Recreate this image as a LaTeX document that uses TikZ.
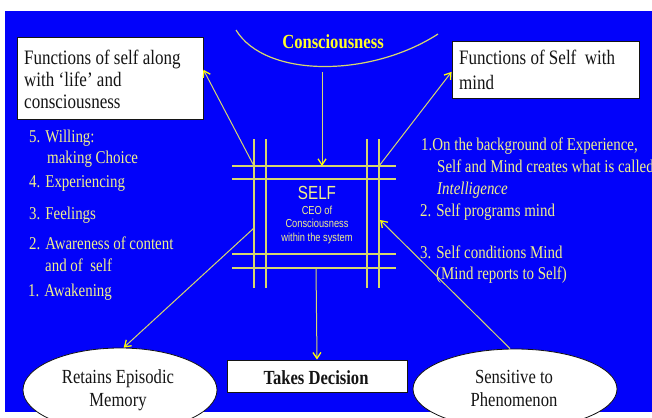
\documentclass[tikz,border=0pt]{standalone}
\usepackage{fontspec}
\setmainfont{Liberation Serif}[FakeStretch=0.83]
\newfontfamily\selfsans{Liberation Sans}[FakeStretch=0.8]
\usetikzlibrary{arrows.meta,shapes.geometric,calc}

\definecolor{slideblue}{RGB}{2,2,250}
\definecolor{gridyel}{RGB}{215,215,110}
\definecolor{listyel}{RGB}{240,240,140}
\definecolor{headyel}{RGB}{255,255,40}
\definecolor{tipyel}{RGB}{255,255,0}
\definecolor{inkblack}{RGB}{20,20,20}

\tikzset{
  gridline/.style={draw=gridyel, line width=1.2pt},
  link/.style={draw=gridyel, line width=1pt,
    -{Straight Barb[length=6pt,width=8pt,line width=1.3pt,color=tipyel]}},
  whitebox/.style={draw=inkblack, fill=white, line width=0.8pt, inner sep=0pt},
  oval/.style={ellipse, draw=inkblack, fill=white, line width=0.8pt, inner sep=0pt},
  listtxt/.style={anchor=base west, inner sep=0pt, text=listyel,
    font=\fontsize{18}{22}\selectfont},
  boxtxt/.style={anchor=base west, inner sep=0pt, text=inkblack,
    font=\fontsize{20.5}{22}\selectfont},
  ovaltxt/.style={anchor=base, inner sep=0pt, text=inkblack,
    font=\fontsize{20}{22}\selectfont},
  selftxt/.style={anchor=base, inner sep=0pt, text=listyel},
}

\begin{document}
\begin{tikzpicture}[x=1pt,y=-1pt]
\useasboundingbox (0,0) rectangle (652,417);
\clip (0,0) rectangle (652,417);
\fill[white] (0,0) rectangle (652,417);
\fill[slideblue] (5,11) rectangle (652,412);

% consciousness bowl and its label
\draw[gridyel, line width=1.2pt] (236,30) .. controls (265,78) and (370,78) .. (438,34);
\node[anchor=base, inner sep=0pt, text=headyel,
      font=\fontsize{20}{20}\selectfont\bfseries] (cons) at (333,49) {Consciousness};

% the SELF lattice
\foreach \gx in {254,266,367,379} \draw[gridline] (\gx,139) -- (\gx,288);
\foreach \gy in {166,179,254,268} \draw[gridline] (232,\gy) -- (396,\gy);

\node[selftxt, font=\selfsans\fontsize{19}{19}\selectfont] (selfname) at (317,199) {SELF};
\node[selftxt, font=\selfsans\fontsize{11.6}{13}\selectfont] (ceo1) at (317,214) {CEO of};
\node[selftxt, font=\selfsans\fontsize{11.6}{13}\selectfont] (ceo2) at (317,227.5) {Consciousness};
\node[selftxt, font=\selfsans\fontsize{11.6}{13}\selectfont] (ceo3) at (317,241) {within the system};

% connector end points on the lattice
\coordinate (consfoot) at (322,72);
\coordinate (gtop) at (322,166);
\coordinate (gtl) at (254,166);
\coordinate (gtr) at (379,166);
\coordinate (gleft) at (254,228);
\coordinate (gright) at (380,220);
\coordinate (gbot) at (316,268);

% boxes and ovals
\node[whitebox, minimum width=186pt, minimum height=82pt] (life) at (110,78) {};
\node[whitebox, minimum width=187pt, minimum height=57pt] (mind) at (545.5,69.5) {};
\node[whitebox, minimum width=180pt, minimum height=32pt] (dec) at (317,376) {};
\node[oval, minimum width=194pt, minimum height=84pt] (mem) at (120,390) {};
\node[oval, minimum width=204pt, minimum height=80pt] (phen) at (515,389) {};

% box texts
\node[boxtxt] (life1) at (24,65) {Functions of self along};
\node[boxtxt] (life2) at (24,87) {with `life' and};
\node[boxtxt] (life3) at (24,109) {consciousness};
\node[boxtxt] (mind1) at (459,65) {Functions of Self~ with};
\node[boxtxt] (mind2) at (459,90) {mind};
\node[ovaltxt, font=\fontsize{20}{22}\selectfont\bfseries] (dec1) at (316,384) {Takes Decision};
\node[ovaltxt] (mem1) at (118,383) {Retains Episodic};
\node[ovaltxt] (mem2) at (118,406) {Memory};
\node[ovaltxt] (phen1) at (514,383) {Sensitive to};
\node[ovaltxt] (phen2) at (514,406) {Phenomenon};

% left list
\node[listtxt] (l5a) at (29,142) {5. Willing:};
\node[listtxt] (l5b) at (47,163) {making Choice};
\node[listtxt] (l4) at (29,187) {4. Experiencing};
\node[listtxt] (l3) at (29,219) {3. Feelings};
\node[listtxt] (l2a) at (29,249) {2. Awareness of content};
\node[listtxt] (l2b) at (45,271) {and of~ self};
\node[listtxt] (l1) at (28,296) {1. Awakening};

% right list
\node[listtxt] (r1a) at (421,150) {1.On the background of Experience,};
\node[listtxt] (r1b) at (437,172) {Self and Mind creates what is called};
\node[listtxt] (r1c) at (437,194) {\itshape Intelligence};
\node[listtxt] (r2) at (420,216) {2. Self programs mind};
\node[listtxt] (r3a) at (420,258) {3. Self conditions Mind};
\node[listtxt] (r3b) at (436,279) {(Mind reports to Self)};

% connectors
\draw[link] (consfoot) -- (gtop);
\draw[link] (gtl) -- ($(life.north east)!0.4!(life.south east)$);
\draw[link] (gtr) -- ($(mind.north west)!0.54!(mind.south west)$);
\draw[link] (gbot) -- (dec.north);
\draw[link] (gleft) -- (mem.85);
\draw[link] (phen.97) -- (gright);
\end{tikzpicture}
\end{document}
